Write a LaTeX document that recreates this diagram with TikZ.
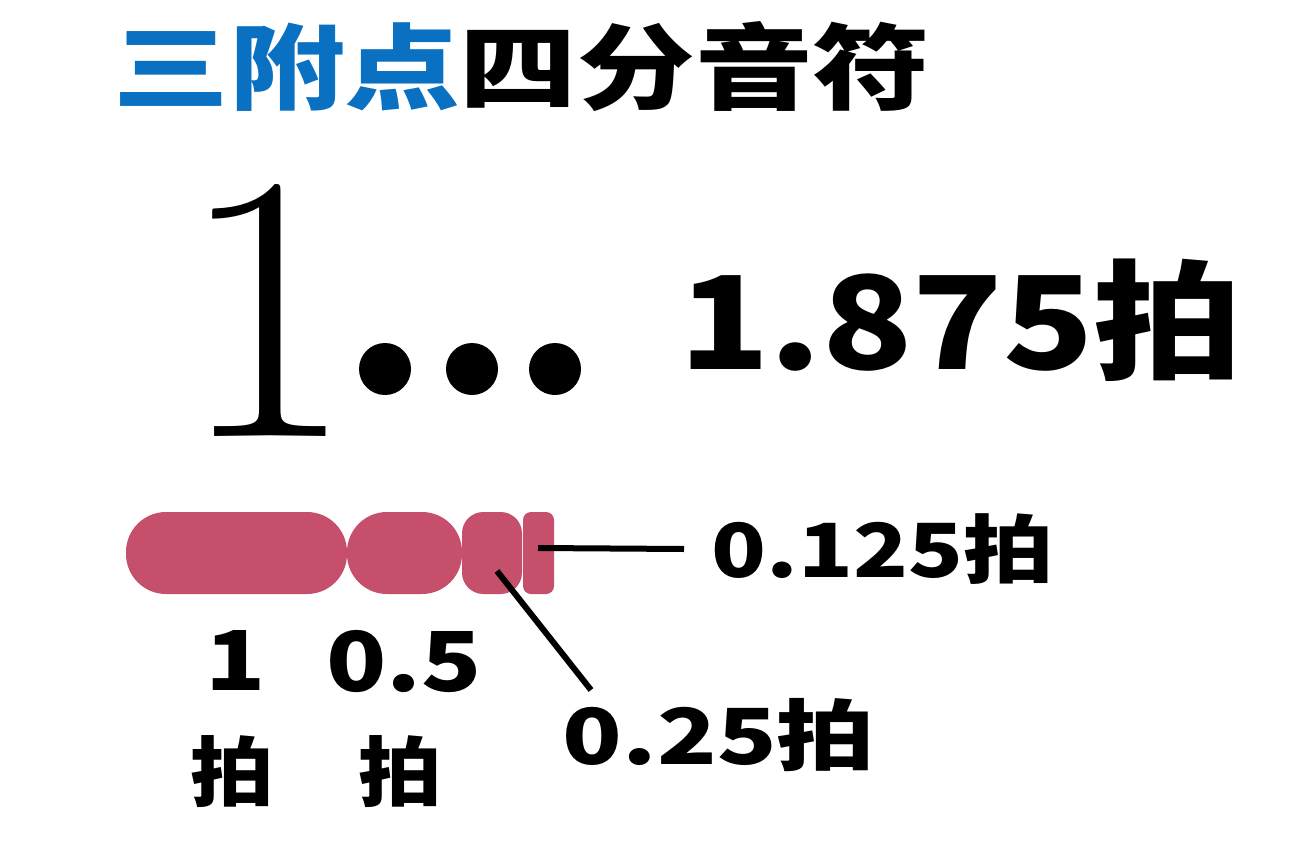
\documentclass[tikz,border=0pt]{standalone}
\usepackage{fontspec}
\setmainfont{Noto Sans CJK SC}
\newfontfamily\lmfont{Latin Modern Roman}
\definecolor{titleblue}{HTML}{0A70C2}
\definecolor{barred}{HTML}{C64F6C}
\begin{document}
\begin{tikzpicture}[x=0.75pt,y=-0.75pt,
  txt/.style={inner sep=0pt,font=\bfseries},
  seg/.style={fill=barred,draw=none},
  lead/.style={line width=4.5pt,black}]
\useasboundingbox[fill=white] (0,0) rectangle (1309,849);
% title
\node[txt,text=titleblue,xscale=1.24,font=\bfseries\fontsize{70}{70}\selectfont] (t1) at (287,67) {三附点};
\node[txt,text=black,xscale=1.26,font=\bfseries\fontsize{70}{70}\selectfont] (t2) at (695,67) {四分音符};
% big 1 and dots
\node[inner sep=0pt,font=\lmfont\fontsize{286}{286}\selectfont] (one) at (267,310) {1};
\fill (385,369) circle[radius=26];
\fill (472,369) circle[radius=26];
\fill (555,369) circle[radius=26];
\node[txt,xscale=1.15,font=\bfseries\fontsize{97}{97}\selectfont] (total) at (961,320) {1.875拍};
% bar
\path[seg,rounded corners=30pt] (126,512) rectangle (347,594);
\path[seg,rounded corners=30pt] (347,512) rectangle (462,594);
\path[seg,rounded corners=16pt] (462,512) rectangle (522,594);
\path[seg,rounded corners=6pt] (523,512) rectangle (554,594);
% labels
\node[txt,xscale=1.21,font=\bfseries\fontsize{56}{56}\selectfont] (l125) at (883,549) {0.125拍};
\node[txt,xscale=1.27,font=\bfseries\fontsize{58}{58}\selectfont] (l25) at (719,735) {0.25拍};
\node[txt,xscale=1.2,font=\bfseries\fontsize{62}{62}\selectfont] (l1) at (236,660) {1};
\node[txt,xscale=1.2,font=\bfseries\fontsize{62}{62}\selectfont] (l05) at (404,661) {0.5};
\node[txt,xscale=1.1,font=\bfseries\fontsize{57}{57}\selectfont] (b1) at (232,772) {拍};
\node[txt,xscale=1.1,font=\bfseries\fontsize{57}{57}\selectfont] (b2) at (400,772) {拍};
% leaders
\coordinate (s4) at (538,548);
\coordinate (e4) at (684,549);
\coordinate (s3) at (497,571);
\coordinate (e3) at (591,690);
\draw[lead] (s4) -- (e4);
\draw[lead] (s3) -- (e3);
\end{tikzpicture}
\end{document}
